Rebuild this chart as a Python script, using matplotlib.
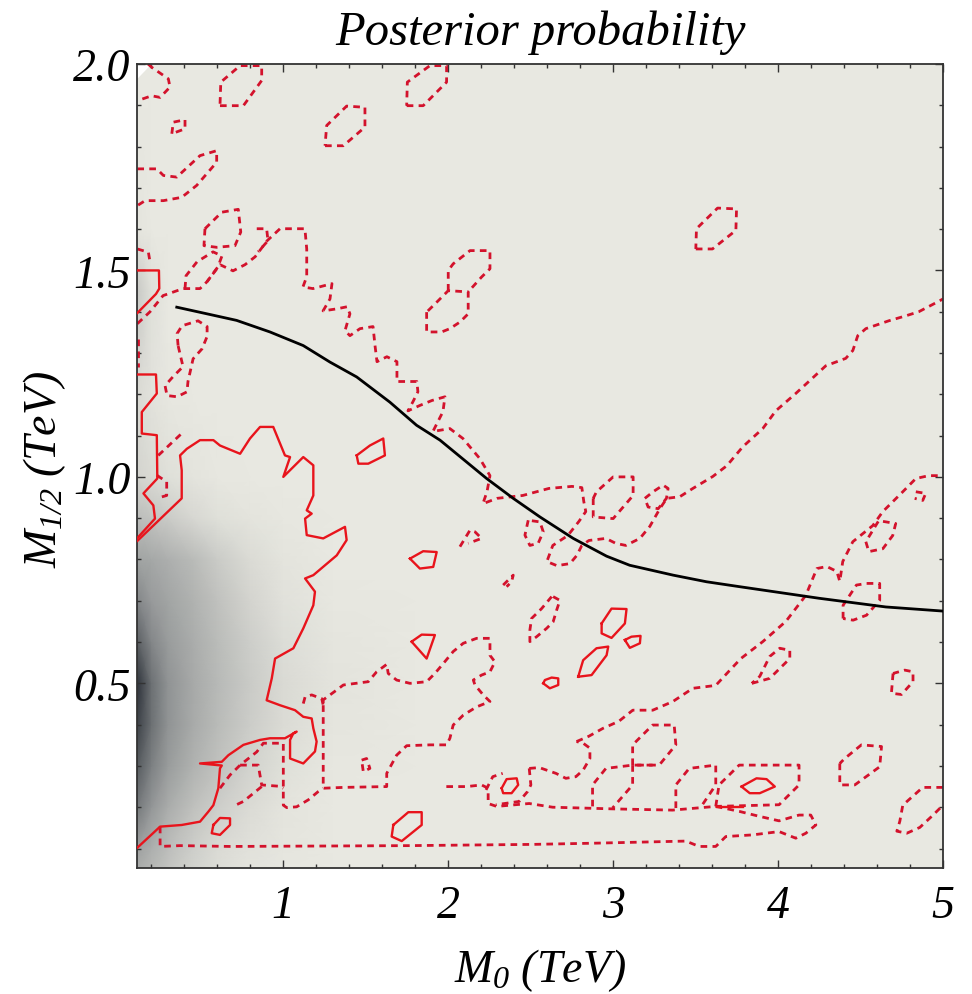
import matplotlib

matplotlib.use("Agg")
import matplotlib.pyplot as plt
import numpy as np
from matplotlib.colors import LinearSegmentedColormap
from matplotlib.ticker import MultipleLocator

plt.rcParams["font.family"] = ["Liberation Serif", "DejaVu Serif"]
plt.rcParams["mathtext.fontset"] = "custom"
plt.rcParams["mathtext.it"] = "Liberation Serif:italic"
plt.rcParams["mathtext.rm"] = "Liberation Serif:italic"
plt.rcParams["mathtext.default"] = "it"

# posterior density on a coarse (M0, M1/2) grid, 0 = empty, 1 = peak
dens_m0 = [0.115, 0.2, 0.3, 0.45, 0.6, 0.8, 1.0, 1.3, 1.8, 5.0]
dens_m12 = [0.05, 0.1, 0.2, 0.3, 0.4, 0.5, 0.6, 0.7, 0.8, 0.9, 1.0, 1.2, 1.45, 1.6, 2.0]
dens = [
    [0.42, 0.34, 0.25, 0.15, 0.08, 0.03, 0.01, 0.00, 0, 0],
    [0.50, 0.40, 0.30, 0.18, 0.10, 0.05, 0.02, 0.00, 0, 0],
    [0.68, 0.55, 0.42, 0.28, 0.18, 0.09, 0.03, 0.00, 0, 0],
    [0.82, 0.65, 0.52, 0.38, 0.27, 0.15, 0.06, 0.01, 0, 0],
    [0.93, 0.72, 0.56, 0.43, 0.32, 0.19, 0.09, 0.02, 0, 0],
    [1.00, 0.72, 0.56, 0.44, 0.33, 0.20, 0.10, 0.03, 0, 0],
    [0.80, 0.62, 0.52, 0.42, 0.31, 0.18, 0.08, 0.02, 0, 0],
    [0.62, 0.53, 0.47, 0.38, 0.27, 0.14, 0.05, 0.01, 0, 0],
    [0.48, 0.45, 0.40, 0.32, 0.20, 0.09, 0.03, 0.00, 0, 0],
    [0.30, 0.26, 0.20, 0.12, 0.06, 0.03, 0.01, 0.00, 0, 0],
    [0.14, 0.10, 0.06, 0.03, 0.01, 0.00, 0.00, 0.00, 0, 0],
    [0.10, 0.04, 0.01, 0.00, 0.00, 0.00, 0.00, 0.00, 0, 0],
    [0.22, 0.06, 0.00, 0.00, 0.00, 0.00, 0.00, 0.00, 0, 0],
    [0.02, 0.00, 0.00, 0.00, 0.00, 0.00, 0.00, 0.00, 0, 0],
    [0.00, 0.00, 0.00, 0.00, 0.00, 0.00, 0.00, 0.00, 0, 0],
]

# exclusion limit curve
limit_m0 = [0.354, 0.536, 0.717, 0.919, 1.121, 1.283, 1.445, 1.646, 1.808, 1.95, 2.233,
            2.394, 2.556, 2.758, 2.96, 3.10, 3.364, 3.566, 3.768, 4.249, 4.653, 5.0]
limit_m12 = [1.411, 1.395, 1.379, 1.351, 1.318, 1.278, 1.242, 1.181, 1.125, 1.089, 0.996,
             0.948, 0.903, 0.851, 0.808, 0.786, 0.762, 0.746, 0.734, 0.706, 0.685, 0.675]

# 68% credible region boundaries (solid)
inner_contours = [
    [(0.115, 1.500), (0.246, 1.500), (0.248, 1.456), (0.228, 1.443), (0.13, 1.403), (0.115, 1.397)],
    [(0.115, 1.248), (0.228, 1.248), (0.233, 1.202), (0.142, 1.157), (0.142, 1.105), (0.233, 1.101),
     (0.236, 0.996), (0.152, 0.960), (0.212, 0.931), (0.222, 0.899), (0.115, 0.852)],
    [(0.115, 0.845), (0.384, 0.948), (0.384, 1.016), (0.374, 1.052), (0.415, 1.068), (0.495, 1.089),
     (0.576, 1.089), (0.616, 1.076), (0.738, 1.056), (0.798, 1.093), (0.859, 1.121), (0.939, 1.121),
     (1.010, 1.052), (1.041, 1.048), (1.000, 1.000), (1.121, 1.048), (1.182, 1.028), (1.182, 0.955),
     (1.142, 0.919), (1.172, 0.911), (1.132, 0.899), (1.142, 0.859), (1.242, 0.851), (1.374, 0.879),
     (1.384, 0.847), (1.324, 0.810), (1.182, 0.762), (1.132, 0.754), (1.192, 0.722), (1.182, 0.689),
     (1.121, 0.633), (1.061, 0.585), (0.950, 0.560), (0.930, 0.512), (0.899, 0.459), (0.980, 0.447),
     (1.071, 0.435), (1.121, 0.419), (1.172, 0.415), (1.182, 0.391), (1.202, 0.359), (1.192, 0.335),
     (1.121, 0.306), (1.041, 0.318), (1.041, 0.363), (1.061, 0.379), (1.081, 0.383), (1.010, 0.367),
     (0.919, 0.367), (0.859, 0.363), (0.758, 0.351), (0.667, 0.326), (0.627, 0.310), (0.495, 0.306),
     (0.627, 0.301), (0.616, 0.294), (0.606, 0.246), (0.576, 0.205), (0.545, 0.189), (0.495, 0.165),
     (0.384, 0.157), (0.253, 0.153), (0.115, 0.102)],
    [(1.445, 1.052), (1.455, 1.032), (1.515, 1.032), (1.616, 1.052), (1.606, 1.093), (1.525, 1.076), (1.445, 1.052)],
    [(1.768, 0.802), (1.828, 0.778), (1.909, 0.782), (1.930, 0.818), (1.848, 0.820), (1.768, 0.802)],
    [(1.778, 0.601), (1.869, 0.560), (1.919, 0.617), (1.839, 0.618), (1.778, 0.601)],
    [(1.667, 0.157), (1.657, 0.129), (1.718, 0.118), (1.839, 0.157), (1.839, 0.188), (1.758, 0.188), (1.667, 0.157)],
    [(0.576, 0.157), (0.566, 0.137), (0.616, 0.133), (0.677, 0.157), (0.677, 0.173), (0.616, 0.174), (0.576, 0.157)],
    [(2.576, 0.500), (2.616, 0.488), (2.667, 0.496), (2.667, 0.512), (2.627, 0.514), (2.586, 0.508), (2.576, 0.500)],
    [(2.788, 0.516), (2.869, 0.520), (2.960, 0.568), (2.970, 0.589), (2.899, 0.585), (2.818, 0.556), (2.788, 0.516)],
    [(2.930, 0.645), (2.930, 0.621), (2.990, 0.610), (3.071, 0.645), (3.081, 0.680), (2.990, 0.681), (2.930, 0.645)],
    [(3.071, 0.605), (3.101, 0.586), (3.162, 0.597), (3.166, 0.615), (3.111, 0.613), (3.071, 0.605)],
    [(2.324, 0.246), (2.333, 0.234), (2.384, 0.234), (2.424, 0.254), (2.415, 0.270), (2.354, 0.268), (2.324, 0.246)],
    [(3.778, 0.250), (3.828, 0.234), (3.889, 0.234), (3.980, 0.250), (3.930, 0.268), (3.869, 0.270), (3.778, 0.250)],
    [(3.627, 0.201), (3.788, 0.201)],
]

# 95% credible region boundaries (dotted)
outer_contours = [
    [(0.18, 2.0), (0.202, 1.992), (0.303, 1.964), (0.313, 1.944), (0.253, 1.919), (0.202, 1.923), (0.115, 1.911)],
    [(0.324, 1.831), (0.333, 1.859), (0.404, 1.865), (0.404, 1.843), (0.324, 1.831)],
    [(0.115, 1.746), (0.233, 1.746), (0.273, 1.730), (0.354, 1.726), (0.495, 1.778), (0.596, 1.790),
     (0.596, 1.762), (0.475, 1.706), (0.384, 1.677), (0.273, 1.669), (0.162, 1.669), (0.115, 1.657)],
    [(0.616, 1.899), (0.758, 1.899), (0.869, 1.960), (0.869, 1.996), (0.738, 1.996), (0.621, 1.956), (0.616, 1.899)],
    [(1.748, 1.899), (1.848, 1.899), (1.990, 1.956), (1.990, 1.996), (1.889, 1.996), (1.752, 1.956), (1.748, 1.899)],
    [(1.253, 1.802), (1.364, 1.802), (1.495, 1.847), (1.495, 1.895), (1.384, 1.898), (1.263, 1.851), (1.253, 1.802)],
    [(3.501, 1.552), (3.602, 1.552), (3.744, 1.597), (3.748, 1.649), (3.633, 1.651), (3.505, 1.601), (3.501, 1.552)],
    [(0.115, 1.371), (0.192, 1.400), (0.271, 1.439), (0.392, 1.456), (0.495, 1.456), (0.538, 1.473),
     (0.616, 1.514), (0.695, 1.499), (0.768, 1.514), (0.829, 1.533), (0.902, 1.572), (0.980, 1.601),
     (1.131, 1.601), (1.142, 1.552), (1.142, 1.485), (1.119, 1.460), (1.180, 1.456), (1.295, 1.468),
     (1.283, 1.431), (1.241, 1.402), (1.325, 1.407), (1.386, 1.412), (1.404, 1.395), (1.374, 1.354),
     (1.404, 1.342), (1.465, 1.359), (1.544, 1.364), (1.556, 1.318), (1.568, 1.279), (1.628, 1.291),
     (1.689, 1.279), (1.689, 1.231), (1.810, 1.231), (1.816, 1.206), (1.786, 1.182), (1.756, 1.160),
     (1.828, 1.173), (1.901, 1.185), (1.980, 1.194), (1.968, 1.158), (1.907, 1.110), (2.010, 1.117),
     (2.089, 1.093), (2.192, 1.044), (2.253, 1.003), (2.235, 0.964), (2.210, 0.935), (2.295, 0.948),
     (2.452, 0.955), (2.610, 0.972), (2.750, 0.977), (2.810, 0.974), (2.822, 0.940), (2.834, 0.916),
     (2.792, 0.892), (2.725, 0.858), (2.634, 0.834), (2.598, 0.795), (2.659, 0.785), (2.738, 0.790),
     (2.780, 0.810), (2.810, 0.834), (2.853, 0.846), (2.956, 0.851), (3.016, 0.839), (3.077, 0.834),
     (3.162, 0.851), (3.222, 0.880), (3.283, 0.923), (3.325, 0.948), (3.404, 0.952), (3.483, 0.972),
     (3.604, 1.001), (3.689, 1.027), (3.786, 1.073), (3.907, 1.117), (3.986, 1.160), (4.107, 1.202),
     (4.186, 1.231), (4.289, 1.269), (4.410, 1.287), (4.453, 1.306), (4.483, 1.342), (4.532, 1.359),
     (4.671, 1.378), (4.774, 1.390), (4.853, 1.400), (4.968, 1.424), (5.0, 1.431)],
    [(0.525, 1.601), (0.627, 1.641), (0.727, 1.648), (0.742, 1.593), (0.707, 1.560), (0.596, 1.556), (0.519, 1.560), (0.525, 1.601)],
    [(0.404, 1.456), (0.410, 1.487), (0.477, 1.521), (0.574, 1.545), (0.628, 1.535), (0.604, 1.509), (0.538, 1.473)],
    [(0.839, 1.601), (0.899, 1.601), (0.907, 1.572), (0.847, 1.545)],
    [(0.115, 1.552), (0.182, 1.544), (0.192, 1.520)],
    [(0.121, 1.335), (0.121, 1.267)],
    [(0.362, 1.318), (0.356, 1.347), (0.386, 1.366), (0.483, 1.378), (0.538, 1.364), (0.538, 1.340),
     (0.507, 1.310), (0.453, 1.286), (0.422, 1.231), (0.416, 1.206), (0.356, 1.194), (0.295, 1.197),
     (0.283, 1.221), (0.332, 1.243), (0.392, 1.267), (0.362, 1.318)],
    [(0.242, 1.052), (0.394, 1.109)],
    [(0.233, 1.004), (0.293, 0.988), (0.293, 0.955), (0.233, 0.948)],
    [(1.242, 0.447), (1.242, 0.246), (1.364, 0.248), (1.627, 0.250), (1.627, 0.282), (1.687, 0.326),
     (1.748, 0.349), (1.889, 0.351), (1.990, 0.351), (2.010, 0.367), (2.030, 0.399), (2.091, 0.423),
     (2.172, 0.443), (2.253, 0.456), (2.212, 0.472), (2.162, 0.496), (2.152, 0.508), (2.202, 0.520),
     (2.253, 0.528), (2.283, 0.552), (2.253, 0.568), (2.253, 0.609), (2.172, 0.609), (2.091, 0.597),
     (2.030, 0.577), (1.970, 0.548), (1.919, 0.524), (1.869, 0.504), (1.768, 0.500), (1.687, 0.508),
     (1.636, 0.524), (1.627, 0.546), (1.566, 0.528), (1.515, 0.504), (1.364, 0.496), (1.324, 0.484),
     (1.283, 0.472), (1.242, 0.460), (1.242, 0.447)],
    [(1.121, 0.451), (1.132, 0.467), (1.172, 0.472), (1.233, 0.463), (1.242, 0.447)],
    [(0.616, 0.246), (0.677, 0.278), (0.738, 0.302), (0.839, 0.334), (0.879, 0.355), (1.000, 0.355),
     (1.000, 0.205), (1.021, 0.199), (1.081, 0.201), (1.152, 0.218), (1.212, 0.238), (1.242, 0.246)],
    [(0.738, 0.302), (0.848, 0.302), (0.869, 0.254), (0.968, 0.251), (1.000, 0.246)],
    [(0.869, 0.250), (0.758, 0.214), (0.695, 0.202)],
    [(1.475, 0.314), (1.505, 0.318), (1.525, 0.294), (1.485, 0.286), (1.475, 0.314)],
    [(0.253, 0.153), (0.253, 0.105), (0.374, 0.107), (0.677, 0.105), (1.768, 0.107), (2.515, 0.110),
     (2.899, 0.113), (3.441, 0.118), (3.521, 0.105), (3.622, 0.105), (3.683, 0.129), (3.845, 0.133),
     (4.006, 0.141), (4.107, 0.125), (4.168, 0.137), (4.229, 0.157), (4.198, 0.181), (4.127, 0.181),
     (4.006, 0.167), (3.885, 0.178), (3.764, 0.190), (3.622, 0.202), (3.360, 0.193), (2.996, 0.196),
     (2.633, 0.200), (2.491, 0.209), (2.293, 0.202), (2.242, 0.209), (2.242, 0.246), (2.202, 0.254),
     (2.112, 0.250), (1.970, 0.250)],
    [(2.778, 0.359), (2.853, 0.372), (2.938, 0.391), (3.034, 0.408), (3.119, 0.435), (3.240, 0.435),
     (3.362, 0.456), (3.483, 0.488), (3.622, 0.495), (3.701, 0.529), (3.774, 0.560), (3.907, 0.601),
     (4.047, 0.650), (4.168, 0.713), (4.235, 0.778), (4.295, 0.783), (4.356, 0.771), (4.374, 0.747),
     (4.392, 0.795), (4.453, 0.843), (4.574, 0.882), (4.635, 0.916), (4.756, 0.964), (4.835, 0.996),
     (4.913, 1.003), (5.0, 1.003)],
    [(2.491, 0.294), (2.552, 0.296), (2.653, 0.282), (2.713, 0.270), (2.774, 0.274), (2.818, 0.290),
     (2.859, 0.318), (2.859, 0.343), (2.818, 0.355), (2.778, 0.359)],
    [(2.491, 0.294), (2.501, 0.254), (2.481, 0.238), (2.430, 0.214), (2.289, 0.206)],
    [(2.875, 0.202), (2.875, 0.254), (2.956, 0.294), (3.118, 0.302), (3.239, 0.302)],
    [(3.118, 0.302), (3.118, 0.351), (3.239, 0.399), (3.370, 0.399), (3.380, 0.351), (3.279, 0.302), (3.118, 0.302)],
    [(3.118, 0.302), (3.118, 0.254), (2.996, 0.198)],
    [(3.380, 0.198), (3.380, 0.254), (3.461, 0.294), (3.622, 0.302), (3.622, 0.254), (3.541, 0.206)],
    [(3.622, 0.202), (3.642, 0.254), (3.764, 0.302), (4.127, 0.302), (4.127, 0.254), (4.006, 0.206), (3.622, 0.202)],
    [(2.229, 0.242), (2.270, 0.274), (2.330, 0.282)],
    [(4.532, 0.843), (4.550, 0.819), (4.635, 0.826), (4.695, 0.858), (4.713, 0.887), (4.610, 0.894), (4.532, 0.843)],
    [(4.835, 0.964), (4.895, 0.960), (4.877, 0.943), (4.828, 0.948)],
    [(4.394, 0.657), (4.394, 0.689), (4.475, 0.738), (4.536, 0.742), (4.616, 0.742), (4.616, 0.701),
     (4.536, 0.665), (4.455, 0.653), (4.394, 0.657)],
    [(3.841, 0.500), (3.949, 0.512), (4.071, 0.560), (4.071, 0.580), (4.010, 0.585), (3.949, 0.565), (3.889, 0.517), (3.841, 0.500)],
    [(4.697, 0.524), (4.687, 0.476), (4.748, 0.473), (4.818, 0.504), (4.818, 0.528), (4.768, 0.532), (4.697, 0.524)],
    [(4.374, 0.306), (4.374, 0.254), (4.465, 0.254), (4.616, 0.298), (4.627, 0.347), (4.505, 0.351), (4.404, 0.318), (4.374, 0.306)],
    [(5.0, 0.248), (4.877, 0.248), (4.756, 0.205), (4.738, 0.166), (4.720, 0.142), (4.780, 0.137),
     (4.859, 0.151), (4.937, 0.180), (5.0, 0.205)],
    [(2.636, 0.710), (2.677, 0.701), (2.657, 0.677), (2.636, 0.649), (2.596, 0.633), (2.536, 0.613),
     (2.495, 0.601), (2.495, 0.629), (2.505, 0.657), (2.566, 0.681), (2.627, 0.710)],
    [(2.333, 0.738), (2.394, 0.762), (2.384, 0.746), (2.354, 0.734)],
    [(2.071, 0.831), (2.132, 0.871), (2.162, 0.867), (2.202, 0.851), (2.121, 0.839)],
    [(1.869, 1.399), (1.869, 1.351), (1.960, 1.351), (2.010, 1.359), (2.071, 1.375), (2.121, 1.395),
     (2.121, 1.448), (2.0, 1.451), (1.930, 1.423), (1.869, 1.399)],
    [(2.0, 1.451), (2.0, 1.500), (2.030, 1.516), (2.132, 1.548), (2.253, 1.548), (2.253, 1.504),
     (2.202, 1.484), (2.121, 1.448)],
    [(2.485, 0.895), (2.465, 0.859), (2.495, 0.834), (2.545, 0.839), (2.576, 0.867), (2.556, 0.891), (2.485, 0.895)],
    [(2.879, 0.948), (2.879, 0.903), (3.0, 0.899), (3.121, 0.955), (3.121, 1.0), (3.0, 1.0), (2.899, 0.964), (2.879, 0.948)],
    [(3.192, 0.948), (3.242, 0.964), (3.303, 0.980), (3.333, 0.972), (3.323, 0.948), (3.273, 0.923), (3.212, 0.927), (3.192, 0.948)],
]

x_ticks = [1, 2, 3, 4, 5]
y_ticks = [0.5, 1.0, 1.5, 2.0]
y_tick_labels = ["0.5", "1.0", "1.5", "2.0"]

bg = (0.910, 0.910, 0.882)
cmap = LinearSegmentedColormap.from_list(
    "post", [bg, (0.62, 0.63, 0.63), (0.18, 0.20, 0.23)])

fig = plt.figure(figsize=(9.72, 9.95), dpi=100)
ax = fig.add_axes([0.1413, 0.1263, 0.8289, 0.8084])
ax.set_facecolor(bg)

ax.pcolormesh(dens_m0, dens_m12, np.array(dens), shading="gouraud",
              cmap=cmap, vmin=0, vmax=1, zorder=0)
ax.fill([0.115, 0.19, 0.115], [2.0, 1.995, 1.964], color="white", lw=0, zorder=1)

for c in outer_contours:
    xs, ys = zip(*c)
    ax.plot(xs, ys, color="#d3122c", lw=2.0, ls=(0, (2.4, 1.9)), zorder=2)

for c in inner_contours:
    xs, ys = zip(*c)
    ax.plot(xs, ys, color="#e8141c", lw=1.7, zorder=3)

ax.plot(limit_m0, limit_m12, color="black", lw=2.0, zorder=4)

ax.set_xlim(0.115, 5.0)
ax.set_ylim(0.052, 2.0)
ax.set_xticks(x_ticks)
ax.set_xticklabels([str(t) for t in x_ticks])
ax.set_yticks(y_ticks)
ax.set_yticklabels(y_tick_labels)
ax.xaxis.set_minor_locator(MultipleLocator(0.2))
ax.yaxis.set_minor_locator(MultipleLocator(0.1))
ax.tick_params(which="both", direction="in", top=True, right=True, width=1.0, color="#333333")
ax.tick_params(which="major", length=6)
ax.tick_params(which="minor", length=3)
ax.tick_params(axis="x", which="major", pad=12, labelsize=33)
ax.tick_params(axis="y", which="major", pad=5, labelsize=33)
for lab in ax.get_xticklabels() + ax.get_yticklabels():
    lab.set_fontstyle("italic")
for sp in ax.spines.values():
    sp.set_linewidth(1.3)
    sp.set_color("#333333")

fig.text(0.556, 1 - 45 / 995, "Posterior probability", fontsize=35,
         fontstyle="italic", ha="center", va="baseline")
fig.text(0.5555, 1 - 982 / 995, r"$M_0\ (TeV)$", fontsize=33,
         ha="center", va="baseline")
fig.text(0.046, 0.528, r"$M_{1/2}\ (TeV)$", fontsize=33, rotation=90,
         ha="center", va="center")

fig.savefig("out.png", dpi=100)
plt.close()
